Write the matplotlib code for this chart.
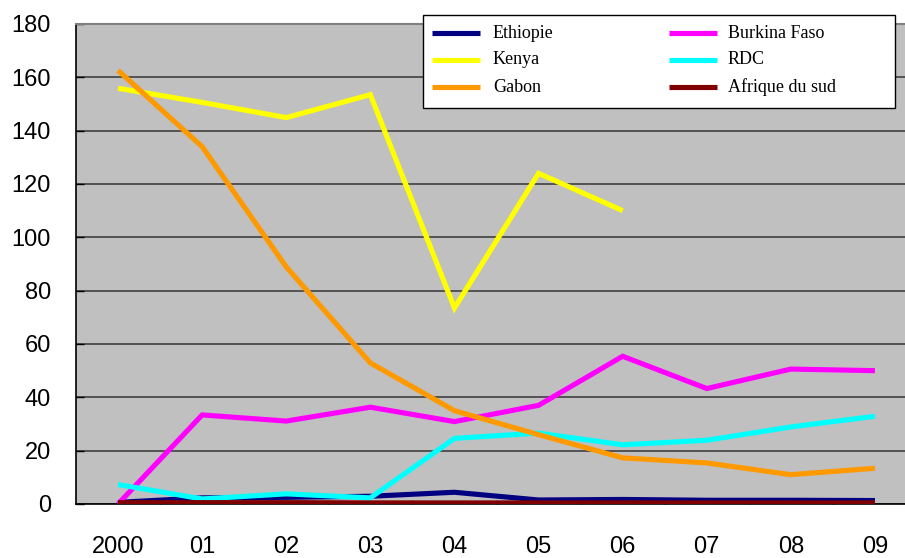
"""Line chart of six African series, 2000-2009, Excel-style grey plot area."""
import numpy as np
import matplotlib
matplotlib.use("Agg")
import matplotlib.pyplot as plt
from matplotlib.lines import Line2D
from matplotlib.patches import Rectangle
from matplotlib.ticker import FixedLocator

# ---------- Data ----------
years = ["2000", "01", "02", "03", "04", "05", "06", "07", "08", "09"]

ethiopie = [0.6, 2.3, 2.5, 2.9, 4.4, 1.5, 1.7, 1.4, 1.4, 1.3]
burkina = [0.0, 33.4, 31.1, 36.3, 30.9, 37.0, 55.4, 43.3, 50.6, 50.0]
kenya = [155.9, 150.6, 144.9, 153.5, 73.5, 124.0, 110.0, np.nan, np.nan, np.nan]
rdc = [7.3, 1.9, 3.8, 2.3, 24.6, 26.6, 22.2, 23.9, 28.9, 32.9]
gabon = [162.6, 134.0, 88.9, 52.9, 35.0, 26.0, 17.3, 15.4, 11.0, 13.4]
afrique_sud = [0.5, 0.5, 0.5, 0.4, 0.4, 0.4, 0.4, 0.4, 0.4, 0.4]

# drawing order (later on top)
SERIES = [
    ("Ethiopie", ethiopie, "#000080"),
    ("Burkina Faso", burkina, "#FF00FF"),
    ("Kenya", kenya, "#FFFF00"),
    ("RDC", rdc, "#00FFFF"),
    ("Gabon", gabon, "#FF9900"),
    ("Afrique du sud", afrique_sud, "#800000"),
]
# legend: two columns, three rows
LEGEND_COLS = [["Ethiopie", "Kenya", "Gabon"],
               ["Burkina Faso", "RDC", "Afrique du sud"]]

W, H = 905, 558
DPI = 100
LW = 3.7
TICK_FS = 17

fig = plt.figure(figsize=(W / DPI, H / DPI), dpi=DPI)
# plot area runs a bit past the right edge of the image
ax = fig.add_axes([76 / W, 54 / H, 841 / W, 480 / H])
ax.set_facecolor("#C0C0C0")

x = np.arange(len(years))
colors = {}
for name, vals, color in SERIES:
    ax.plot(x, vals, color=color, lw=LW, solid_capstyle="butt",
            solid_joinstyle="miter", zorder=3)
    colors[name] = color

ax.set_xlim(-0.5, len(years) - 0.5)
ax.set_ylim(0, 180)

ax.set_yticks(np.arange(0, 181, 20))
ax.yaxis.grid(True, color="#404040", lw=1.2)
ax.set_axisbelow(True)
ax.tick_params(axis="y", direction="in", length=6, width=1, color="black",
               labelsize=TICK_FS, pad=18)

ax.set_xticks(x)
ax.set_xticklabels(years)
ax.xaxis.set_minor_locator(FixedLocator(np.arange(0.5, len(years) - 1, 1.0)))
ax.tick_params(axis="x", which="major", length=0, labelsize=TICK_FS, pad=23)
ax.tick_params(axis="x", which="minor", direction="in", length=3, width=1,
               color="#404040")

for t in ax.get_xticklabels() + ax.get_yticklabels():
    t.set_fontfamily("Liberation Sans")

ax.spines["top"].set_color("#808080")
ax.spines["top"].set_linewidth(1.5)
ax.spines["right"].set_visible(False)
ax.spines["left"].set_color("black")
ax.spines["left"].set_linewidth(1.2)
ax.spines["bottom"].set_color("black")
ax.spines["bottom"].set_linewidth(1.2)

# ---------- Legend box (pixel layout, top-left origin) ----------
def fx(px):
    return px / W

def fy(py):
    return 1 - py / H

fig.add_artist(Rectangle((fx(423), fy(108)), fx(895) - fx(423), fy(15) - fy(108),
                         transform=fig.transFigure, facecolor="white",
                         edgecolor="black", lw=1.0, zorder=5))
row_y = [33, 60, 87]
col_x = [(432, 480, 493), (669, 717, 728)]  # handle start, handle end, text x
for (h0, h1, tx), names in zip(col_x, LEGEND_COLS):
    for ry, name in zip(row_y, names):
        fig.add_artist(Line2D([fx(h0), fx(h1)], [fy(ry), fy(ry)],
                              transform=fig.transFigure, color=colors[name],
                              lw=LW, solid_capstyle="butt", zorder=6))
        fig.text(fx(tx), fy(ry), name, ha="left", va="center",
                 family="Liberation Serif", fontsize=13, zorder=6)

fig.savefig("out.png", dpi=DPI)
